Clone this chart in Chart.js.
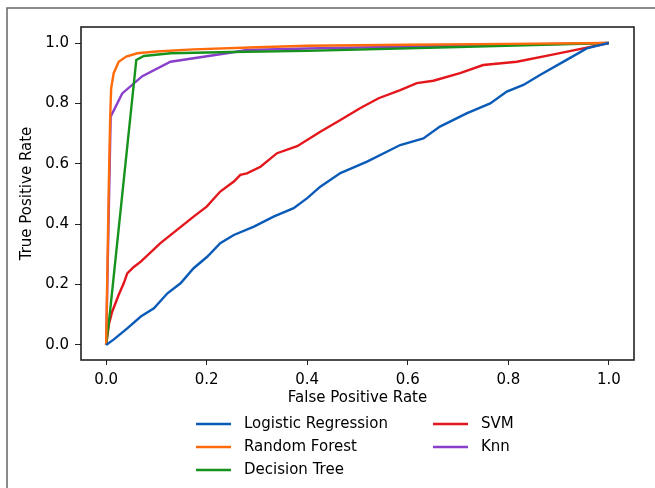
<!DOCTYPE html>
<html>
<head>
<meta charset="utf-8">
<script src="https://cdn.jsdelivr.net/npm/chart.js@4"></script>
<style>
  html, body { margin: 0; padding: 0; background: #fff; }
  #wrap { position: relative; width: 655px; height: 488px; }
</style>
</head>
<body>
<div id="wrap"><canvas id="roc" width="655" height="488"></canvas></div>
<script>
'use strict';

// ROC curves: [fpr, tpr]
const logisticRegression = [
  [0, 0], [0.016, 0.019], [0.042, 0.055], [0.069, 0.094], [0.095, 0.121],
  [0.122, 0.171], [0.148, 0.204], [0.174, 0.254], [0.201, 0.292], [0.227, 0.337],
  [0.254, 0.364], [0.294, 0.392], [0.333, 0.425], [0.373, 0.453], [0.40, 0.486],
  [0.426, 0.524], [0.466, 0.569], [0.519, 0.607], [0.585, 0.662], [0.631, 0.684],
  [0.664, 0.723], [0.717, 0.767], [0.764, 0.80], [0.797, 0.839], [0.83, 0.861],
  [0.863, 0.894], [0.916, 0.944], [0.956, 0.982], [0.982, 0.993], [1, 1]
];
const randomForest = [
  [0, 0], [0.005, 0.5], [0.008, 0.75], [0.01, 0.85], [0.015, 0.9], [0.025, 0.938],
  [0.04, 0.955], [0.062, 0.966], [0.1, 0.972], [0.174, 0.979], [0.3, 0.986],
  [0.4, 0.991], [0.6, 0.994], [0.8, 0.997], [1, 1]
];
const decisionTree = [
  [0, 0], [0.0075, 0.106], [0.06, 0.944], [0.075, 0.957], [0.128, 0.966],
  [0.25, 0.97], [0.4, 0.974], [0.7, 0.987], [1, 1]
];
const svm = [
  [0, 0], [0.006, 0.072], [0.012, 0.11], [0.025, 0.166], [0.035, 0.204],
  [0.042, 0.237], [0.055, 0.258], [0.069, 0.276], [0.108, 0.337], [0.141, 0.381],
  [0.174, 0.425], [0.20, 0.458], [0.227, 0.508], [0.254, 0.541], [0.267, 0.563],
  [0.28, 0.568], [0.307, 0.59], [0.34, 0.635], [0.38, 0.658], [0.426, 0.706],
  [0.466, 0.745], [0.505, 0.784], [0.542, 0.817], [0.585, 0.844], [0.618, 0.867],
  [0.651, 0.875], [0.704, 0.90], [0.75, 0.927], [0.817, 0.938], [0.883, 0.96],
  [0.949, 0.982], [1, 1]
];
const knn = [
  [0, 0], [0.009, 0.756], [0.032, 0.833], [0.072, 0.89], [0.128, 0.938],
  [0.24, 0.966], [0.28, 0.977], [0.4, 0.982], [0.7, 0.991], [1, 1]
];

const seriesNames = ['Logistic Regression', 'Random Forest', 'Decision Tree', 'SVM', 'Knn'];
const seriesData = [logisticRegression, randomForest, decisionTree, svm, knn];
const seriesColors = ['#0a5bb8', '#ff6a0a', '#16931c', '#e3161c', '#8a3fca'];

const tickValues = [0, 0.2, 0.4, 0.6, 0.8, 1.0];

const FONT = 'DejaVu Sans';

// outer frame, box around the plot and the two-column legend
const framePlugin = {
  id: 'frame',
  beforeDraw(chart) {
    const c = chart.ctx;
    c.save();
    c.strokeStyle = '#666';
    c.lineWidth = 1.5;
    c.beginPath();
    c.moveTo(7, 488);
    c.lineTo(7, 8);
    c.lineTo(655, 8);
    c.stroke();
    c.restore();
  },
  afterDraw(chart) {
    const c = chart.ctx;
    const a = chart.chartArea;
    c.save();
    c.strokeStyle = '#222';
    c.lineWidth = 1.6;
    c.strokeRect(a.left, a.top, a.right - a.left, a.bottom - a.top);

    // legend, filled column by column like matplotlib's ncol=2
    const cols = [196, 433];
    const rows = [424, 447, 470];
    c.font = '15px "' + FONT + '"';
    c.textBaseline = 'middle';
    c.fillStyle = '#000';
    chart.data.datasets.forEach((ds, i) => {
      const col = Math.floor(i / 3);
      const row = i % 3;
      const x = cols[col];
      const y = rows[row];
      c.strokeStyle = ds.borderColor;
      c.lineWidth = 2.6;
      c.beginPath();
      c.moveTo(x, y);
      c.lineTo(x + 35, y);
      c.stroke();
      c.fillText(ds.label, x + 48, y);
    });
    c.restore();
  }
};

const ctx = document.getElementById('roc');

let chart = new Chart(ctx, {
  type: 'line',
  data: {
    datasets: seriesNames.map((name, i) => ({
      label: name,
      data: seriesData[i].map(p => ({x: p[0], y: p[1]})),
      borderColor: seriesColors[i],
      borderWidth: 2.4,
      pointRadius: 0,
      tension: 0,
      fill: false
    }))
  },
  options: {
    responsive: false,
    animation: false,
    layout: {
      padding: {top: 27, right: 21, left: 0, bottom: 0}
    },
    plugins: {
      legend: {display: false},
      tooltip: {enabled: false}
    },
    scales: {
      x: {
        type: 'linear',
        min: -0.05,
        max: 1.05,
        afterBuildTicks: (scale) => { scale.ticks = tickValues.map(v => ({value: v})); },
        afterFit: (scale) => { scale.height = 128; },
        grid: {drawOnChartArea: false, drawTicks: true, tickLength: 5, tickColor: '#222'},
        border: {display: false},
        ticks: {
          color: '#000',
          padding: 6,
          maxRotation: 0,
          font: {family: FONT, size: 15},
          callback: (v) => v.toFixed(1)
        },
        title: {
          display: true,
          text: 'False Positive Rate',
          color: '#000',
          font: {family: FONT, size: 15},
          padding: {top: 0, bottom: 81}
        }
      },
      y: {
        type: 'linear',
        min: -0.05,
        max: 1.053,
        afterBuildTicks: (scale) => { scale.ticks = tickValues.map(v => ({value: v})); },
        afterFit: (scale) => { scale.width = 81; },
        grid: {drawOnChartArea: false, drawTicks: true, tickLength: 6, tickColor: '#222'},
        border: {display: false},
        ticks: {
          color: '#000',
          padding: 6,
          font: {family: FONT, size: 15},
          callback: (v) => v.toFixed(1)
        },
        title: {
          display: true,
          text: 'True Positive Rate',
          color: '#000',
          font: {family: FONT, size: 15},
          padding: {top: 18, bottom: 0}
        }
      }
    }
  },
  plugins: [framePlugin]
});
</script>
</body>
</html>
